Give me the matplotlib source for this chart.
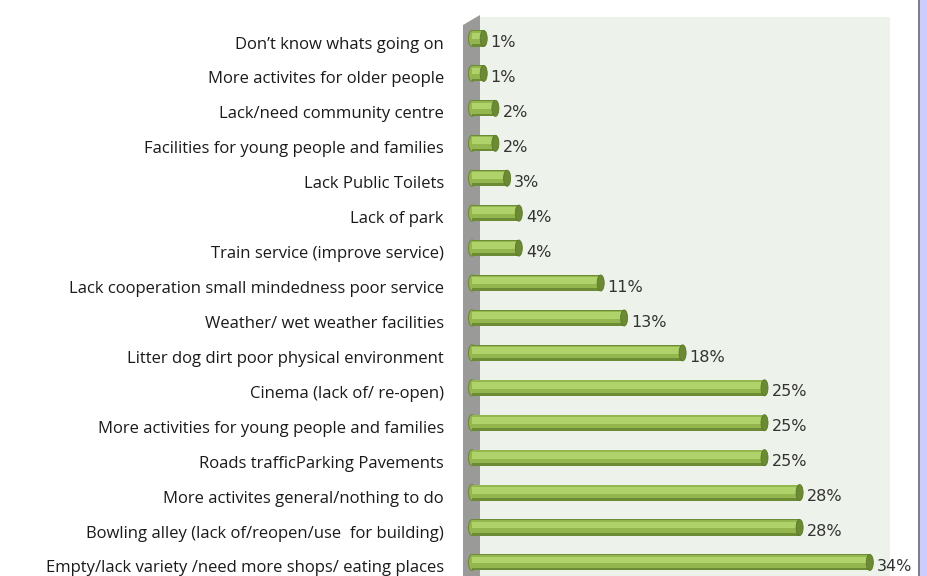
import matplotlib
matplotlib.use('Agg')
import matplotlib.pyplot as plt
from matplotlib.patches import Rectangle, Polygon, Ellipse
from matplotlib.transforms import IdentityTransform, ScaledTranslation

categories = [
    "Don\u2019t know whats going on",
    "More activites for older people",
    "Lack/need community centre",
    "Facilities for young people and families",
    "Lack Public Toilets",
    "Lack of park",
    "Train service (improve service)",
    "Lack cooperation small mindedness poor service",
    "Weather/ wet weather facilities",
    "Litter dog dirt poor physical environment",
    "Cinema (lack of/ re-open)",
    "More activities for young people and families",
    "Roads trafficParking Pavements",
    "More activites general/nothing to do",
    "Bowling alley (lack of/reopen/use  for building)",
    "Empty/lack variety /need more shops/ eating places",
]
values = [1, 1, 2, 2, 3, 4, 4, 11, 13, 18, 25, 25, 25, 28, 28, 34]

W, H = 928, 576
fig = plt.figure(figsize=(W / 100, H / 100), dpi=100)
fig.patch.set_facecolor('white')

# axes spans the 3D wall area, in pixels
left_px, right_px = 463, 920
ax = fig.add_axes([left_px / W, 0, (right_px - left_px) / W, 1])
ax.set_facecolor('none')
for s in ax.spines.values():
    s.set_visible(False)

zero_px, unit_px = 472, 11.7
row0_px, row_step = 38.5, 34.93
ax.set_xlim((left_px - zero_px) / unit_px, (right_px - zero_px) / unit_px)
ax.set_ylim((H - row0_px) / row_step, -row0_px / row_step)


def pix(x, y):
    # top-left pixel coords -> display coords
    return (x, H - y)


ident = IdentityTransform()

# background wall
wall = Polygon([pix(480, 17), pix(890, 17), pix(890, 576), pix(480, 576)],
               closed=True, facecolor='#edf3ea', edgecolor='none',
               transform=ident, zorder=0, clip_on=False)
ax.add_patch(wall)
# grey side wall
side = Polygon([pix(463, 25), pix(480, 15), pix(480, 576), pix(463, 576)],
               closed=True, facecolor='#9a9a98', edgecolor='none',
               transform=ident, zorder=0.5, clip_on=False)
ax.add_patch(side)
# right border strip
fig.patches.append(Rectangle(pix(918, 576), 2, 576, facecolor='#7f7f7f',
                             edgecolor='none', transform=ident))
fig.patches.append(Rectangle(pix(920, 576), 8, 576, facecolor='#ccccff',
                             edgecolor='none', transform=ident))

ypos = list(range(len(categories)))
bar_h = 0.46
cap_w = 0.6

ax.barh(ypos, values, height=bar_h, color='#6d8a34', zorder=2)
ax.barh([y - 0.03 for y in ypos], values, height=bar_h - 0.1, color='#93b74e', zorder=3)
ax.barh([y - 0.07 for y in ypos], values, height=bar_h * 0.42, color='#afd26a', zorder=4)

for y, v in zip(ypos, values):
    ax.add_patch(Ellipse((0, y), cap_w, bar_h, facecolor='#93b74e',
                         edgecolor='#6d8a34', lw=0.8, zorder=1.5))
    ax.add_patch(Ellipse((v, y), cap_w, bar_h, facecolor='#6b8a33',
                         edgecolor='#5c782b', lw=0.6, zorder=5))
    ax.text(v + cap_w / 2 + 0.3, y + 0.12, f"{v}%", ha='left', va='center',
            fontsize=11.5, color='#333333', family='DejaVu Sans', zorder=6)

ax.set_xticks([])
ax.set_yticks(ypos)
ax.set_yticklabels(categories, family='Open Sans', fontsize=12, color='#1a1a1a')
ax.tick_params(axis='y', length=0, pad=(left_px - 444) * 0.72)
shift = ScaledTranslation(0, -4 / 100, fig.dpi_scale_trans)
for lbl in ax.get_yticklabels():
    lbl.set_transform(lbl.get_transform() + shift)

fig.savefig('out.png', dpi=100)
